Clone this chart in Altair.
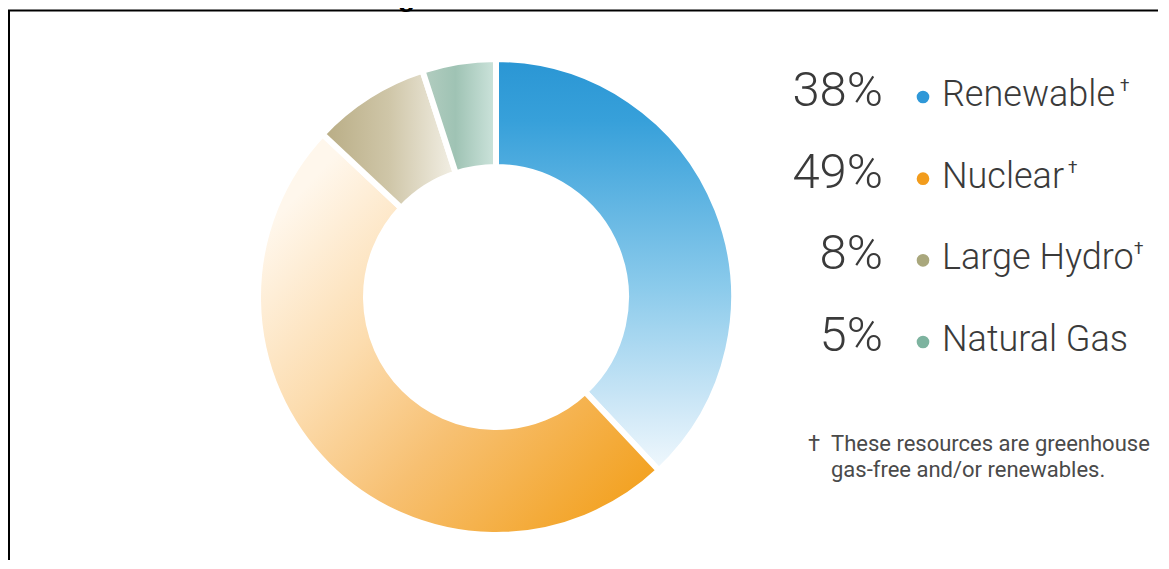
import altair as alt
import pandas as pd

# ---- data ----
categories = ["Renewable", "Nuclear", "Large Hydro", "Natural Gas"]
shares = [38, 49, 8, 5]
pct_labels = ["38%", "49%", "8%", "5%"]
ghg_free = [True, True, True, False]
dot_colors = ["#2f98d8", "#f29c1c", "#a9a77c", "#7db39f"]
title_text = "Figure 4: PG&E 2022 Power Mix"
footnote_mark = "\u2020"
footnote_lines = ["These resources are greenhouse", "gas-free and/or renewables."]

# ---- derived table ----
ends = pd.Series(shares).cumsum()
df = pd.DataFrame({
    "category": categories,
    "share": shares,
    "pct": pct_labels,
    "row": list(range(len(categories))),
    "start": (ends - pd.Series(shares)).tolist(),
    "end": ends.tolist(),
})

# ---- layout / style ----
W, H = 1150, 552
CX, CY = 488, 289
R_IN, R_OUT = 130, 238
FONT = "Roboto"
TXT = "#3a3a3a"

def grad(stops, x1, y1, x2, y2):
    return alt.LinearGradient(
        gradient="linear",
        stops=[alt.GradientStop(offset=o, color=c) for o, c in stops],
        x1=x1, y1=y1, x2=x2, y2=y2,
    )

gradients = {
    "Renewable": grad([(0, "#2a96d4"), (0.15, "#37a0da"), (0.55, "#8acaeb"),
                       (0.85, "#cfe8f7"), (1, "#f0f8fd")], 0.5, 0, 0.5, 1),
    "Nuclear": grad([(0, "#f29b0f"), (0.2, "#f4ab3a"), (0.45, "#f7c072"),
                     (0.7, "#fcdcae"), (1, "#fff7ec")], 1, 1, 0.1, 0.15),
    "Large Hydro": grad([(0, "#b8ac84"), (0.5, "#cfc6a8"), (1, "#f3f0e6")], 0, 0.5, 1, 0.5),
    "Natural Gas": grad([(0, "#b3cdc0"), (0.45, "#9fc3b4"), (1, "#cde4dc")], 0, 0.5, 1, 0.5),
}

theta_scale = alt.Scale(domain=[0, 100])
layers = []
for cat in categories:
    layers.append(
        alt.Chart(df)
        .transform_filter(alt.datum.category == cat)
        .mark_arc(innerRadius=R_IN, outerRadius=R_OUT, fill=gradients[cat],
                  stroke="white", strokeWidth=6)
        .encode(theta=alt.Theta("start:Q", scale=theta_scale), theta2="end:Q",
                x=alt.value(CX), y=alt.value(CY))
    )

row_y = alt.Y("row:Q", scale=alt.Scale(domain=[0, 3], range=[89, 334]), axis=None)

nums = alt.Chart(df).mark_text(
    align="right", baseline="alphabetic", font=FONT, fontSize=49, fontWeight=300,
    color=TXT, dy=9,
).encode(x=alt.value(875), y=row_y, text="pct:N")

dots = alt.Chart(df).mark_circle(size=160, opacity=1).encode(
    x=alt.value(915), y=row_y,
    color=alt.Color("category:N", scale=alt.Scale(domain=categories, range=dot_colors), legend=None),
)

labels = alt.Chart(df).mark_text(
    align="left", baseline="alphabetic", font=FONT, fontSize=36, fontWeight=300,
    color=TXT, dy=9,
).encode(x=alt.value(934), y=row_y, text="category:N")

dagger_x = {"Renewable": 1112, "Nuclear": 1060, "Large Hydro": 1126}
dag_df = df[pd.Series(ghg_free)].copy()
dag_df["dx_px"] = dag_df["category"].map(dagger_x)
daggers = alt.Chart(dag_df).mark_text(
    text=footnote_mark, align="left", baseline="alphabetic", font=FONT, fontSize=17,
    color=TXT, dy=-6,
).encode(x=alt.X("dx_px:Q", scale=None), y=row_y)

one = pd.DataFrame({"k": [0]})
foot_mark = alt.Chart(one).mark_text(
    text=footnote_mark, align="left", baseline="alphabetic", font=FONT, fontSize=22,
    color="#4a4a4a",
).encode(x=alt.value(800), y=alt.value(443))
foot_text = alt.Chart(one).mark_text(
    text=footnote_lines, align="left", baseline="alphabetic", font=FONT, fontSize=22,
    lineHeight=26, color="#4a4a4a",
).encode(x=alt.value(823), y=alt.value(443))

title = alt.Chart(one).mark_text(
    text=title_text, align="center", baseline="alphabetic", font="Liberation Sans",
    fontWeight="bold", fontSize=28, color="black",
).encode(x=alt.value(576), y=alt.value(-2))

border_left = alt.Chart(one).mark_rule(color="black", strokeWidth=2).encode(
    x=alt.value(1), y=alt.value(2), y2=alt.value(H))
border_top = alt.Chart(one).mark_rule(color="black", strokeWidth=2).encode(
    x=alt.value(0), x2=alt.value(W), y=alt.value(2.5))

chart = alt.layer(
    *layers, dots, nums, labels, daggers, foot_mark, foot_text, title, border_left, border_top
).properties(
    width=W, height=H, autosize=alt.AutoSizeParams(type="none"), padding=0,
).configure_view(strokeWidth=0)

chart.save("out.html", embed_options={"renderer": "svg", "actions": False})
